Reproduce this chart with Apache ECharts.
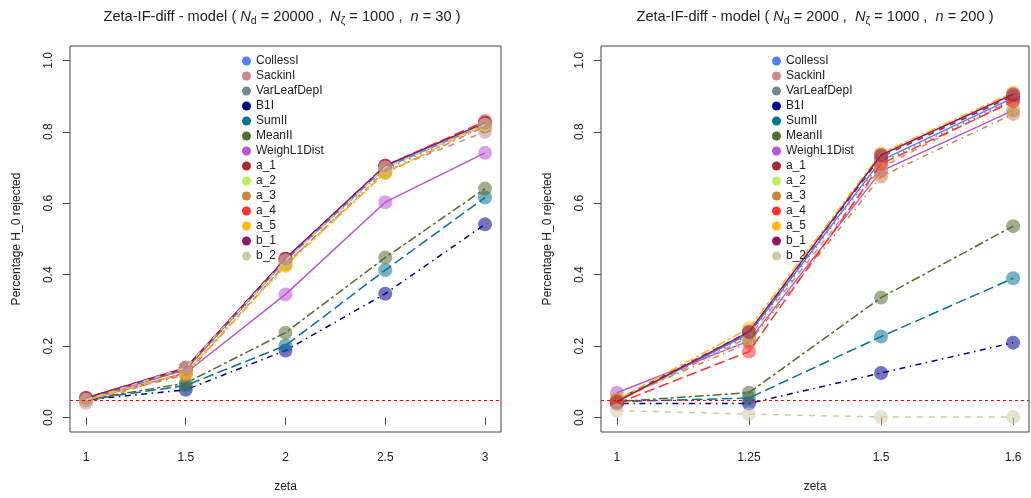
<!DOCTYPE html>
<html>
<head>
<meta charset="utf-8">
<script src="https://cdn.jsdelivr.net/npm/echarts@6/dist/echarts.min.js"></script>
<style>
html,body{margin:0;padding:0;background:#fff;}
#chart{width:1031px;height:498px;}
</style>
</head>
<body>
<div id="chart"></div>
<script>
// ---- data ----
const seriesNames = ['CollessI','SackinI','VarLeafDepI','B1I','SumII','MeanII','WeighL1Dist','a_1','a_2','a_3','a_4','a_5','b_1','b_2'];
const leftCategories = ['1','1.5','2','2.5','3'];
const rightCategories = ['1','1.25','1.5','1.6'];
const yTickValues = [0, 0.2, 0.4, 0.6, 0.8, 1.0];
const refLevel = 0.05;

// left panel (Nd = 20000, n = 30)
const L_CollessI    = [0.050, 0.135, 0.440, 0.700, 0.820];
const L_SackinI     = [0.042, 0.125, 0.430, 0.690, 0.800];
const L_VarLeafDepI = [0.050, 0.130, 0.440, 0.695, 0.815];
const L_B1I         = [0.050, 0.078, 0.188, 0.347, 0.541];
const L_SumII       = [0.050, 0.090, 0.202, 0.413, 0.616];
const L_MeanII      = [0.050, 0.097, 0.238, 0.448, 0.641];
const L_WeighL1Dist = [0.050, 0.125, 0.345, 0.603, 0.741];
const L_a_1         = [0.055, 0.140, 0.445, 0.705, 0.825];
const L_a_2         = [0.050, 0.130, 0.425, 0.690, 0.820];
const L_a_3         = [0.050, 0.120, 0.430, 0.685, 0.815];
const L_a_4         = [0.055, 0.135, 0.445, 0.705, 0.830];
const L_a_5         = [0.050, 0.125, 0.425, 0.685, 0.820];
const L_b_1         = [0.055, 0.140, 0.445, 0.705, 0.825];
const L_b_2         = [0.050, 0.140, 0.440, 0.700, 0.820];

// right panel (Nd = 2000, n = 200)
const R_CollessI    = [0.045, 0.235, 0.720, 0.895];
const R_SackinI     = [0.045, 0.225, 0.700, 0.890];
const R_VarLeafDepI = [0.045, 0.230, 0.715, 0.890];
const R_B1I         = [0.040, 0.040, 0.125, 0.210];
const R_SumII       = [0.045, 0.055, 0.227, 0.390];
const R_MeanII      = [0.045, 0.070, 0.336, 0.536];
const R_WeighL1Dist = [0.070, 0.215, 0.690, 0.860];
const R_a_1         = [0.050, 0.240, 0.730, 0.900];
const R_a_2         = [0.045, 0.220, 0.705, 0.865];
const R_a_3         = [0.050, 0.210, 0.675, 0.850];
const R_a_4         = [0.040, 0.185, 0.710, 0.885];
const R_a_5         = [0.050, 0.250, 0.740, 0.910];
const R_b_1         = [0.045, 0.240, 0.735, 0.905];
const R_b_2         = [0.020, 0.010, 0.002, 0.002];

const leftValues = [L_CollessI,L_SackinI,L_VarLeafDepI,L_B1I,L_SumII,L_MeanII,L_WeighL1Dist,L_a_1,L_a_2,L_a_3,L_a_4,L_a_5,L_b_1,L_b_2];
const rightValues = [R_CollessI,R_SackinI,R_VarLeafDepI,R_B1I,R_SumII,R_MeanII,R_WeighL1Dist,R_a_1,R_a_2,R_a_3,R_a_4,R_a_5,R_b_1,R_b_2];

// ---- styles ----
const colors = ['#4F7FFF','#D08890','#6E8B95','#00008B','#00758F','#556B2F','#BA55D3','#A52A2A','#B8F060','#CD853F','#FF3030','#FFB90F','#8B1C62','#CFCBA8'];
const S = 1.5;
const dashPatterns = [
  'solid',
  [4*S, 4*S],
  [1*S, 3*S],
  [1*S, 3*S, 4*S, 3*S],
  [7*S, 3*S],
  [2*S, 2*S, 6*S, 2*S]
];
const FONT = '"Liberation Sans", Arial, Helvetica, sans-serif';

function makeAxes(gridIndex, cats) {
  const n = cats.length;
  const pad = (n - 1) * 0.04;
  const idx = cats.map((c, i) => i + 1);
  const x = {
    type: 'value', gridIndex: gridIndex,
    min: 1 - pad, max: n + pad,
    name: 'zeta', nameLocation: 'middle', nameGap: 49,
    nameTextStyle: {fontFamily: FONT, fontSize: 12, color: '#222'},
    axisLine: {show: false},
    splitLine: {show: false},
    axisTick: {show: true, inside: false, length: 7, customValues: idx, lineStyle: {color: '#444'}},
    axisLabel: {show: true, margin: 20, customValues: idx, fontFamily: FONT, fontSize: 12, color: '#222',
      formatter: v => cats[Math.round(v) - 1]}
  };
  const y = {
    type: 'value', gridIndex: gridIndex,
    min: -0.04, max: 1.04,
    name: 'Percentage H_0 rejected', nameLocation: 'middle', nameGap: 47,
    nameTextStyle: {fontFamily: FONT, fontSize: 12, color: '#222'},
    axisLine: {show: false},
    splitLine: {show: false},
    axisTick: {show: true, inside: false, length: 7, customValues: yTickValues, lineStyle: {color: '#444'}},
    axisLabel: {show: true, rotate: 90, margin: 15, customValues: yTickValues, fontFamily: FONT, fontSize: 12, color: '#222',
      formatter: v => v.toFixed(1)}
  };
  return {x, y};
}

const lAx = makeAxes(0, leftCategories);
const rAx = makeAxes(1, rightCategories);

function buildSeries(values, axisIndex) {
  return values.map((vals, k) => {
    const s = {
      name: seriesNames[k],
      type: 'line',
      xAxisIndex: axisIndex, yAxisIndex: axisIndex,
      data: vals.map((v, i) => [i + 1, v]),
      symbol: 'circle', symbolSize: 14,
      showSymbol: true,
      animation: false,
      itemStyle: {color: colors[k], opacity: 0.55},
      lineStyle: {color: colors[k], width: 1.5, type: dashPatterns[k % 6], cap: 'butt'},
      emphasis: {disabled: true},
      z: 2 + k * 0.01
    };
    if (k === 0) {
      s.markLine = {
        silent: true, symbol: 'none', animation: false,
        label: {show: false},
        lineStyle: {color: '#FF0000', type: [3, 3], width: 1},
        data: [{yAxis: refLevel}]
      };
    }
    return s;
  });
}

function titleText(nd, nz, n) {
  return '{t|Zeta-IF-diff - model ( }{i|N}{s|d}{t| = ' + nd + ' ,  }{i|N}{s|ζ}{t| = ' + nz + ' ,  }{i|n}{t| = ' + n + ' )}';
}
const TS = 14.6;
const titleRich = {
  t: {fontFamily: FONT, fontSize: TS, color: '#222', lineHeight: 20, verticalAlign: 'middle'},
  i: {fontStyle: 'italic', fontFamily: FONT, fontSize: TS, color: '#222', lineHeight: 20, verticalAlign: 'middle'},
  s: {fontFamily: FONT, fontSize: 10.5, color: '#222', lineHeight: 11, verticalAlign: 'bottom'}
};

const legendBase = {
  orient: 'vertical',
  icon: 'circle',
  padding: 0,
  itemWidth: 9, itemHeight: 9,
  itemGap: 1,
  itemStyle: {opacity: 1},
  textStyle: {fontFamily: FONT, fontSize: 12, color: '#222', lineHeight: 14},
  selectedMode: false,
  data: seriesNames
};

const option = {
  backgroundColor: '#fff',
  animation: false,
  title: [
    {text: titleText(20000, 1000, 30), left: 282, top: 7, textAlign: 'center', padding: 0,
     textStyle: {fontFamily: FONT, fontSize: TS, fontWeight: 'normal', color: '#222', lineHeight: 20, rich: titleRich}},
    {text: titleText(2000, 1000, 200), left: 815, top: 7, textAlign: 'center', padding: 0,
     textStyle: {fontFamily: FONT, fontSize: TS, fontWeight: 'normal', color: '#222', lineHeight: 20, rich: titleRich}}
  ],
  legend: [
    Object.assign({}, legendBase, {left: 242, top: 54}),
    Object.assign({}, legendBase, {left: 772, top: 54})
  ],
  grid: [
    {left: 70, right: 530, top: 46, bottom: 66, show: true, borderColor: '#444', borderWidth: 1, backgroundColor: 'transparent'},
    {left: 601, right: 2, top: 46, bottom: 66, show: true, borderColor: '#444', borderWidth: 1, backgroundColor: 'transparent'}
  ],
  xAxis: [lAx.x, rAx.x],
  yAxis: [lAx.y, rAx.y],
  series: buildSeries(leftValues, 0).concat(buildSeries(rightValues, 1))
};

const chart = echarts.init(document.getElementById('chart'), null, {renderer: 'canvas'});
chart.setOption(option);
</script>
</body>
</html>
